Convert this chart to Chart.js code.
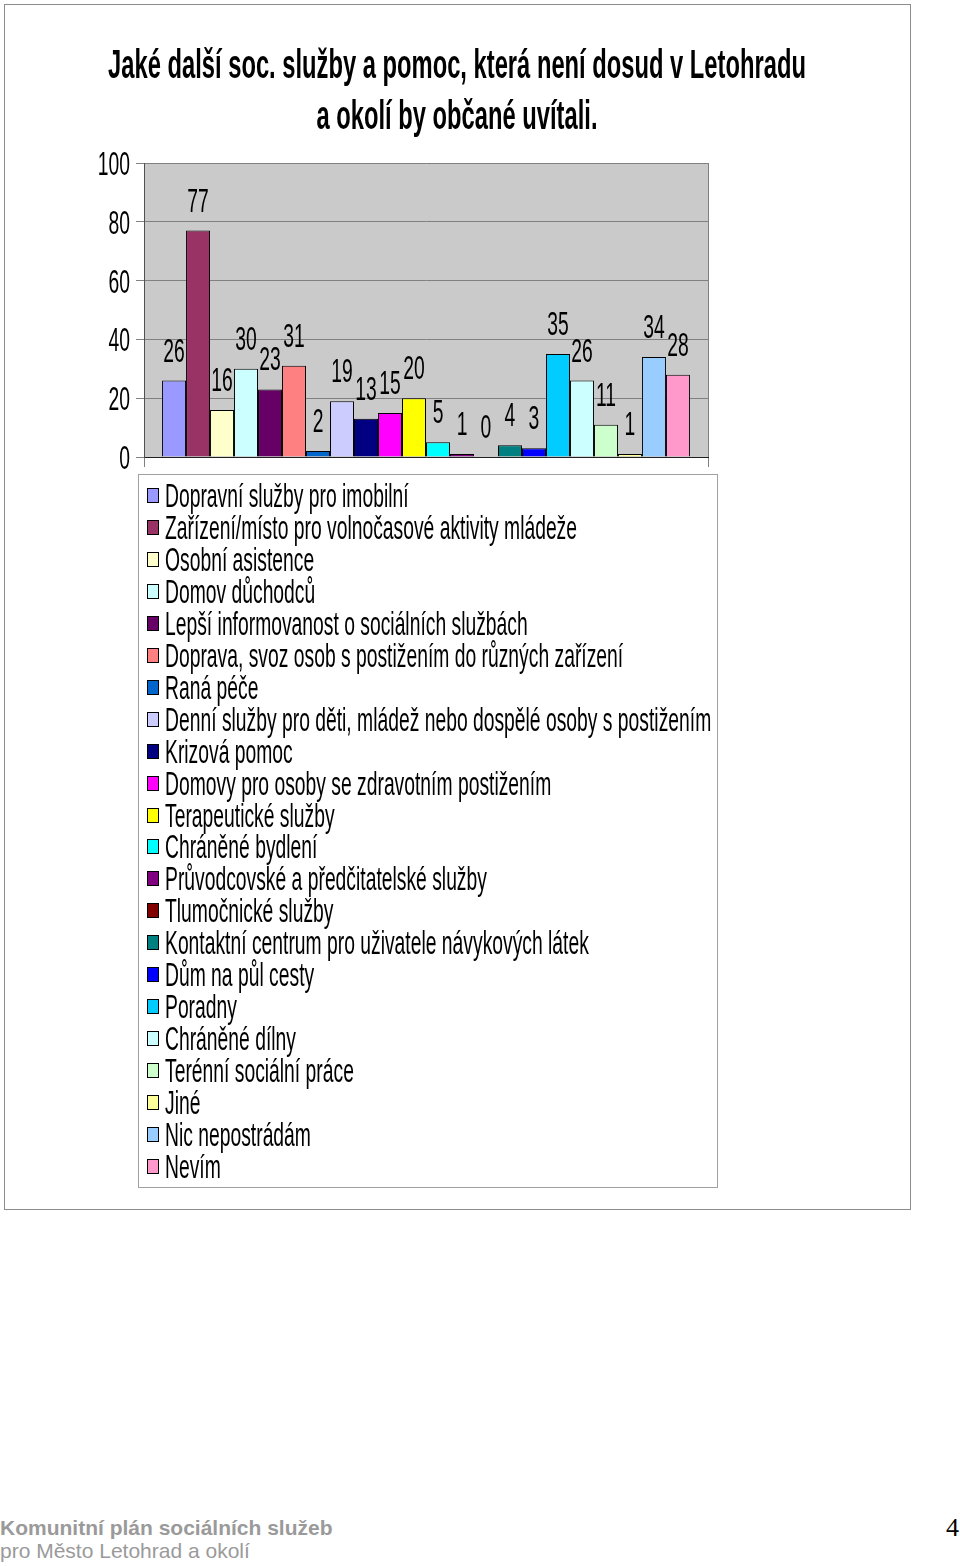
<!DOCTYPE html>
<html>
<head>
<meta charset="utf-8">
<script src="https://cdn.jsdelivr.net/npm/chart.js@4.4.0/dist/chart.umd.min.js"></script>
<style>
  html, body { margin: 0; padding: 0; background: #fff; }
  body { width: 960px; height: 1566px; position: relative; overflow: hidden; }
  #frame { position: absolute; left: 4px; top: 4px; width: 907px; height: 1206px; box-sizing: border-box; border: 1px solid #8c8c8c; }
  #c { position: absolute; left: 0; top: 0; }
  .foot { position: absolute; left: 0; font-family: "Liberation Sans", Arial, sans-serif; font-size: 21px; line-height: 21px; color: #9a9a9a; white-space: nowrap; }
  .f1 { top: 1517px; font-weight: bold; }
  .f2 { top: 1540px; }
  .pg { position: absolute; right: 1px; top: 1515px; font-family: "Liberation Serif", "Times New Roman", serif; font-size: 26px; line-height: 26px; color: #000; }
</style>
</head>
<body>
<div id="frame"></div>
<canvas id="c" width="960" height="1220"></canvas>
<div class="foot f1">Komunitní plán sociálních služeb</div>
<div class="foot f2">pro Město Letohrad a okolí</div>
<div class="pg">4</div>
<script>
const titleLines = ['Jaké další soc. služby a pomoc, která není dosud v Letohradu', 'a okolí by občané uvítali.'];
const categories = ['Služby'];
const seriesLabels = [
  'Dopravní služby pro imobilní',
  'Zařízení/místo pro volnočasové aktivity mládeže',
  'Osobní asistence',
  'Domov důchodců',
  'Lepší informovanost o sociálních službách',
  'Doprava, svoz osob s postižením do různých zařízení',
  'Raná péče',
  'Denní služby pro děti, mládež nebo dospělé osoby s postižením',
  'Krizová pomoc',
  'Domovy pro osoby se zdravotním postižením',
  'Terapeutické služby',
  'Chráněné bydlení',
  'Průvodcovské a předčitatelské služby',
  'Tlumočnické služby',
  'Kontaktní centrum pro uživatele návykových látek',
  'Dům na půl cesty',
  'Poradny',
  'Chráněné dílny',
  'Terénní sociální práce',
  'Jiné',
  'Nic nepostrádám',
  'Nevím'
];
const seriesValues = [26, 77, 16, 30, 23, 31, 2, 19, 13, 15, 20, 5, 1, 0, 4, 3, 35, 26, 11, 1, 34, 28];
const seriesColors = [
  '#9999FF', '#993366', '#FFFFCC', '#CCFFFF', '#660066', '#FF8080', '#0066CC', '#CCCCFF',
  '#000080', '#FF00FF', '#FFFF00', '#00FFFF', '#800080', '#800000', '#008080', '#0000FF',
  '#00CCFF', '#CCFFFF', '#CCFFCC', '#FFFF99', '#99CCFF', '#FF99CC'
];
const yTickValues = [0, 20, 40, 60, 80, 100];

const FONT = '"Liberation Sans", Arial, sans-serif';
const SX = 0.585; // horizontal compression of the condensed lettering

const canvas = document.getElementById('c');
const ctx = canvas.getContext('2d');
// Condensed text: every text drawn on this canvas is narrowed horizontally
const _fill = ctx.fillText.bind(ctx);
const _measure = ctx.measureText.bind(ctx);
ctx.fillText = function (t, x, y, mw) {
  this.save();
  this.translate(x, y);
  this.scale(SX, 1);
  if (mw !== undefined) _fill(t, 0, 0, mw / SX); else _fill(t, 0, 0);
  this.restore();
};
ctx.measureText = function (t) {
  const m = _measure(t);
  return {
    width: m.width * SX,
    actualBoundingBoxAscent: m.actualBoundingBoxAscent,
    actualBoundingBoxDescent: m.actualBoundingBoxDescent,
    actualBoundingBoxLeft: m.actualBoundingBoxLeft * SX,
    actualBoundingBoxRight: m.actualBoundingBoxRight * SX
  };
};

const plotBackground = {
  id: 'plotBackground',
  beforeDraw(chart) {
    const a = chart.chartArea;
    const c = chart.ctx;
    c.save();
    c.fillStyle = '#CACACA';
    c.fillRect(a.left, a.top, a.right - a.left, a.bottom - a.top);
    c.restore();
  }
};

const titlePlugin = {
  id: 'titleText',
  afterDraw(chart) {
    const c = chart.ctx;
    c.save();
    c.font = 'bold 40.6px ' + FONT;
    c.fillStyle = '#000';
    c.textAlign = 'center';
    c.textBaseline = 'alphabetic';
    c.fillText(titleLines[0], 457, 78);
    c.fillText(titleLines[1], 457, 129);
    c.restore();
  }
};

const valueLabels = {
  id: 'valueLabels',
  afterDatasetsDraw(chart) {
    const c = chart.ctx;
    c.save();
    c.font = '33px ' + FONT;
    c.fillStyle = '#000';
    c.textAlign = 'center';
    c.textBaseline = 'alphabetic';
    chart.data.datasets.forEach((ds, i) => {
      chart.getDatasetMeta(i).data.forEach((bar, j) => {
        c.fillText(String(ds.data[j]), bar.x, bar.y - 19);
      });
    });
    c.restore();
  }
};

const boxLegend = {
  id: 'boxLegend',
  afterDraw(chart) {
    const c = chart.ctx;
    c.save();
    c.fillStyle = '#fff';
    c.fillRect(138, 474, 580, 714);
    c.strokeStyle = '#a0a0a0';
    c.lineWidth = 1;
    c.strokeRect(138.5, 474.5, 579, 713);
    c.font = '33px ' + FONT;
    c.textAlign = 'left';
    c.textBaseline = 'alphabetic';
    chart.data.datasets.forEach((ds, i) => {
      const base = 507 + i * 31.95;
      const top = Math.round(base - 19);
      c.fillStyle = ds.backgroundColor;
      c.fillRect(147, top, 12, 15);
      c.strokeStyle = '#000';
      c.strokeRect(147.5, top + 0.5, 11, 14);
      c.fillStyle = '#000';
      c.fillText(ds.label, 165, base);
    });
    c.restore();
  }
};

new Chart(ctx, {
  type: 'bar',
  data: {
    labels: categories,
    datasets: seriesLabels.map((label, i) => ({
      label: label,
      data: [seriesValues[i]],
      backgroundColor: seriesColors[i],
      borderColor: '#000',
      borderWidth: 1,
      barPercentage: 1,
      categoryPercentage: 0.936
    }))
  },
  options: {
    responsive: false,
    animation: false,
    devicePixelRatio: 1,
    layout: { padding: { left: 0, top: 163, right: 252, bottom: 753 } },
    plugins: {
      legend: { display: false },
      title: { display: false },
      tooltip: { enabled: false }
    },
    scales: {
      x: {
        ticks: { display: false },
        grid: { offset: true, color: '#808080', tickLength: 10, lineWidth: 1 },
        border: { color: '#202020' },
        afterFit(s) { s.height = 10; }
      },
      y: {
        min: 0,
        max: 100,
        afterBuildTicks(s) { s.ticks = yTickValues.map(v => ({ value: v })); },
        ticks: { padding: 6, labelOffset: 3, color: '#000', font: { family: FONT, size: 33 } },
        grid: { color: '#808080', tickLength: 8, lineWidth: 1 },
        border: { color: '#505050' },
        afterFit(s) { s.width = 144; }
      }
    }
  },
  plugins: [plotBackground, valueLabels, titlePlugin, boxLegend]
});
</script>
</body>
</html>
